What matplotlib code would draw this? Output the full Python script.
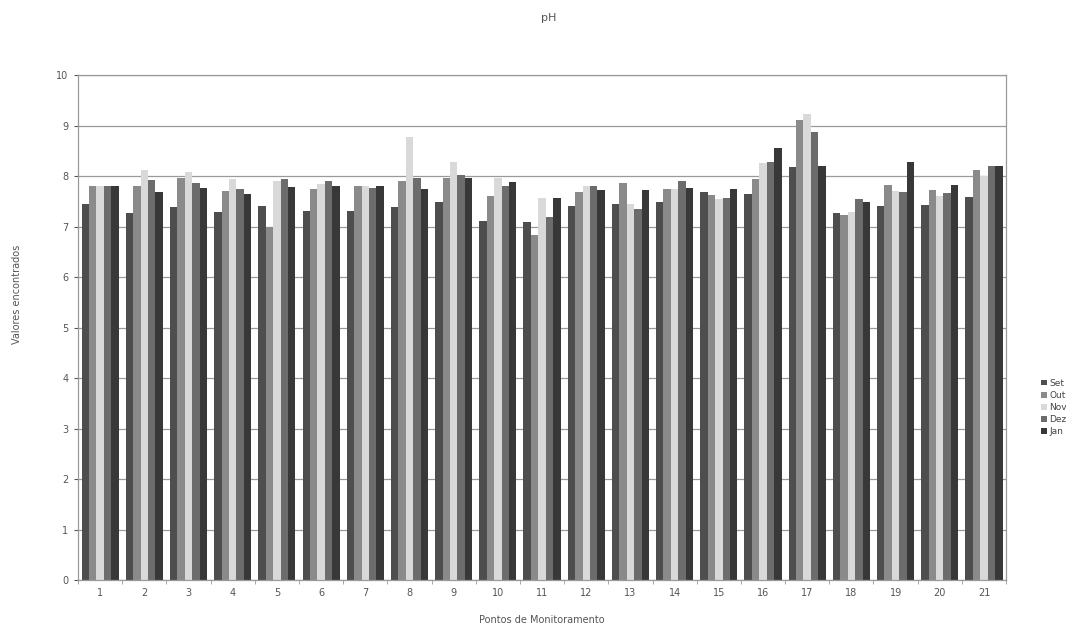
import matplotlib
matplotlib.use("Agg")
import matplotlib.pyplot as plt
import numpy as np

points = [str(i) for i in range(1, 22)]
series_names = ["Set", "Out", "Nov", "Dez", "Jan"]
set_vals = [7.44, 7.27, 7.39, 7.29, 7.41, 7.31, 7.31, 7.38, 7.48, 7.12, 7.09,
            7.40, 7.45, 7.48, 7.69, 7.64, 8.18, 7.27, 7.41, 7.42, 7.58]
out_vals = [7.80, 7.80, 7.96, 7.71, 6.99, 7.75, 7.80, 7.90, 7.97, 7.60, 6.84,
            7.69, 7.86, 7.75, 7.62, 7.94, 9.11, 7.23, 7.82, 7.72, 8.12]
nov_vals = [7.80, 8.13, 8.08, 7.95, 7.90, 7.85, 7.80, 8.77, 8.29, 7.97, 7.56,
            7.80, 7.45, 7.75, 7.55, 8.26, 9.24, 7.30, 7.70, 7.60, 8.00]
dez_vals = [7.81, 7.92, 7.87, 7.74, 7.94, 7.90, 7.77, 7.97, 8.03, 7.80, 7.19,
            7.81, 7.35, 7.90, 7.56, 8.29, 8.88, 7.54, 7.69, 7.66, 8.20]
jan_vals = [7.81, 7.69, 7.77, 7.64, 7.78, 7.80, 7.80, 7.75, 7.97, 7.88, 7.56,
            7.72, 7.72, 7.77, 7.75, 8.56, 8.21, 7.49, 8.29, 7.82, 8.20]
all_series = [set_vals, out_vals, nov_vals, dez_vals, jan_vals]
colors = ["#4e4e4e", "#8a8a8a", "#d9d9d9", "#6c6c6c", "#383838"]

fig = plt.figure(figsize=(10.9, 6.27), dpi=100)
ax = fig.add_axes([0.0716, 0.075, 0.8514, 0.805])

x = np.arange(1, len(points) + 1)
w = 0.168
for i, (vals, c, name) in enumerate(zip(all_series, colors, series_names)):
    ax.bar(x + (i - 2) * w, vals, width=w, color=c, label=name, zorder=2,
           linewidth=0)

ax.set_xlim(0.5, 21.5)
ax.set_ylim(0, 10)
ax.set_yticks(range(0, 11))
ax.yaxis.grid(True, color="#9a9a9a", linewidth=0.9, zorder=0)
ax.set_axisbelow(True)
ax.set_xticks(x)
ax.set_xticklabels(points)
ax.set_xticks(np.arange(0.5, 22, 1), minor=True)
ax.tick_params(axis="x", which="major", length=0, labelsize=7, colors="#555555", pad=6)
ax.tick_params(axis="x", which="minor", length=3, color="#999999")
ax.tick_params(axis="y", length=3, labelsize=7, colors="#555555", pad=4)
for s in ["left", "right", "bottom", "top"]:
    ax.spines[s].set_color("#9a9a9a")
    ax.spines[s].set_linewidth(0.9)

ax.set_xlabel("Pontos de Monitoramento", fontsize=7, color="#555555", labelpad=12)
fig.text(0.016, 0.53, "Valores encontrados", rotation=90, fontsize=7,
         color="#555555", ha="center", va="center")
fig.text(0.503, 0.972, "pH", fontsize=8, color="#555555", ha="center", va="center")

fig.legend(loc="center left", bbox_to_anchor=(0.948, 0.35), frameon=False,
           fontsize=6.5, handlelength=0.6, handleheight=0.6, handletextpad=0.3,
           labelspacing=0.35, labelcolor="#444444")

fig.savefig("out.png", dpi=100, facecolor="white")
